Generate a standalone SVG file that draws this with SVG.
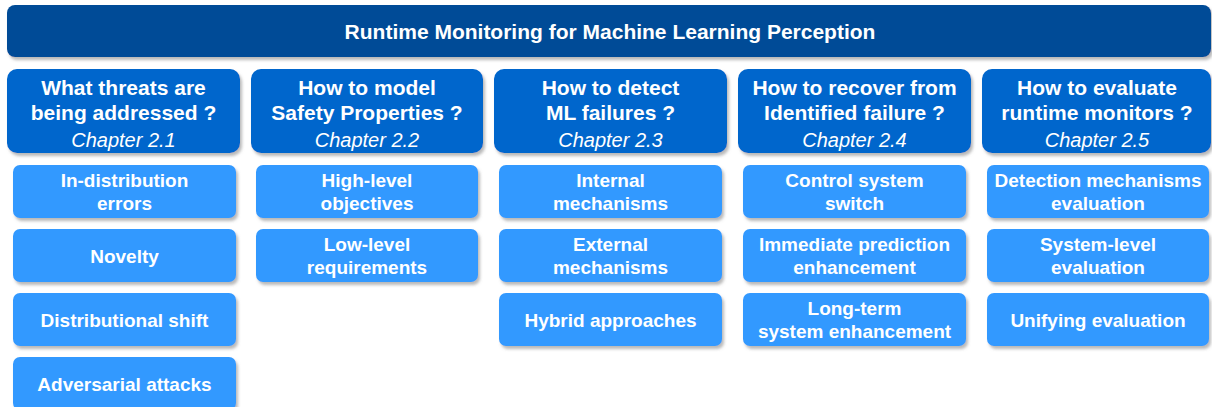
<svg xmlns="http://www.w3.org/2000/svg" width="1212" height="407" viewBox="0 0 1212 407">
<defs>
<filter id="sh" x="-5%" y="-10%" width="115%" height="130%">
<feDropShadow dx="2" dy="3" stdDeviation="1.5" flood-color="#7f7f7f" flood-opacity="0.55"/>
</filter>
<style>
.banner{fill:#004C97;filter:url(#sh)}
.head{fill:#0066CC;filter:url(#sh)}
.sub{fill:#3399FF;filter:url(#sh)}
text{fill:#FFFFFF;font-family:"Liberation Sans",Arial,sans-serif;text-anchor:middle}
.bt{font-size:21px;font-weight:bold}
.ht{font-size:21px;font-weight:bold}
.ch{font-size:20px;font-style:italic}
.st{font-size:19px;font-weight:bold}
</style>
</defs>
<rect width="1212" height="407" fill="#FFFFFF"/>
<g id="connectors"></g>
<g id="title">
<rect class="banner" x="7" y="5" width="1204" height="52" rx="8"/>
<text class="bt" x="610" y="39">Runtime Monitoring for Machine Learning Perception</text>
</g>
<g id="h1">
<rect class="head" x="7" y="69" width="233" height="84" rx="10"/>
<text class="ht" x="123.5" y="95">What threats are</text>
<text class="ht" x="123.5" y="119.5">being addressed ?</text>
<text class="ch" x="123.5" y="147">Chapter 2.1</text>
</g>
<g id="h2">
<rect class="head" x="251" y="69" width="232" height="84" rx="10"/>
<text class="ht" x="367" y="95">How to model</text>
<text class="ht" x="367" y="119.5">Safety Properties ?</text>
<text class="ch" x="367" y="147">Chapter 2.2</text>
</g>
<g id="h3">
<rect class="head" x="494" y="69" width="233" height="84" rx="10"/>
<text class="ht" x="610.5" y="95">How to detect</text>
<text class="ht" x="610.5" y="119.5">ML failures ?</text>
<text class="ch" x="610.5" y="147">Chapter 2.3</text>
</g>
<g id="h4">
<rect class="head" x="738" y="69" width="233" height="84" rx="10"/>
<text class="ht" x="854.5" y="95">How to recover from</text>
<text class="ht" x="854.5" y="119.5">Identified failure ?</text>
<text class="ch" x="854.5" y="147">Chapter 2.4</text>
</g>
<g id="h5">
<rect class="head" x="982" y="69" width="229" height="84" rx="10"/>
<text class="ht" x="1097" y="95">How to evaluate</text>
<text class="ht" x="1097" y="119.5">runtime monitors ?</text>
<text class="ch" x="1097" y="147">Chapter 2.5</text>
</g>
<g id="c1r1"><rect class="sub" x="13" y="165" width="223" height="53" rx="7"/>
<text class="st" x="124.5" y="187">In-distribution</text><text class="st" x="124.5" y="210">errors</text></g>
<g id="c1r2"><rect class="sub" x="13" y="229" width="223" height="53" rx="7"/>
<text class="st" x="124.5" y="262.5">Novelty</text></g>
<g id="c1r3"><rect class="sub" x="13" y="293" width="223" height="53" rx="7"/>
<text class="st" x="124.5" y="326.5">Distributional shift</text></g>
<g id="c1r4"><rect class="sub" x="13" y="357" width="223" height="53" rx="7"/>
<text class="st" x="124.5" y="390.5">Adversarial attacks</text></g>
<g id="c2r1"><rect class="sub" x="256" y="165" width="222" height="53" rx="7"/>
<text class="st" x="367" y="187">High-level</text><text class="st" x="367" y="210">objectives</text></g>
<g id="c2r2"><rect class="sub" x="256" y="229" width="222" height="53" rx="7"/>
<text class="st" x="367" y="251">Low-level</text><text class="st" x="367" y="274">requirements</text></g>
<g id="c3r1"><rect class="sub" x="499" y="165" width="223" height="53" rx="7"/>
<text class="st" x="610.5" y="187">Internal</text><text class="st" x="610.5" y="210">mechanisms</text></g>
<g id="c3r2"><rect class="sub" x="499" y="229" width="223" height="53" rx="7"/>
<text class="st" x="610.5" y="251">External</text><text class="st" x="610.5" y="274">mechanisms</text></g>
<g id="c3r3"><rect class="sub" x="499" y="293" width="223" height="53" rx="7"/>
<text class="st" x="610.5" y="326.5">Hybrid approaches</text></g>
<g id="c4r1"><rect class="sub" x="743" y="165" width="223" height="53" rx="7"/>
<text class="st" x="854.5" y="187">Control system</text><text class="st" x="854.5" y="210">switch</text></g>
<g id="c4r2"><rect class="sub" x="743" y="229" width="223" height="53" rx="7"/>
<text class="st" x="854.5" y="251">Immediate prediction</text><text class="st" x="854.5" y="274">enhancement</text></g>
<g id="c4r3"><rect class="sub" x="743" y="293" width="223" height="53" rx="7"/>
<text class="st" x="854.5" y="315">Long-term</text><text class="st" x="854.5" y="338">system enhancement</text></g>
<g id="c5r1"><rect class="sub" x="987" y="165" width="222" height="53" rx="7"/>
<text class="st" x="1098" y="187">Detection mechanisms</text><text class="st" x="1098" y="210">evaluation</text></g>
<g id="c5r2"><rect class="sub" x="987" y="229" width="222" height="53" rx="7"/>
<text class="st" x="1098" y="251">System-level</text><text class="st" x="1098" y="274">evaluation</text></g>
<g id="c5r3"><rect class="sub" x="987" y="293" width="222" height="53" rx="7"/>
<text class="st" x="1098" y="326.5">Unifying evaluation</text></g>
</svg>
